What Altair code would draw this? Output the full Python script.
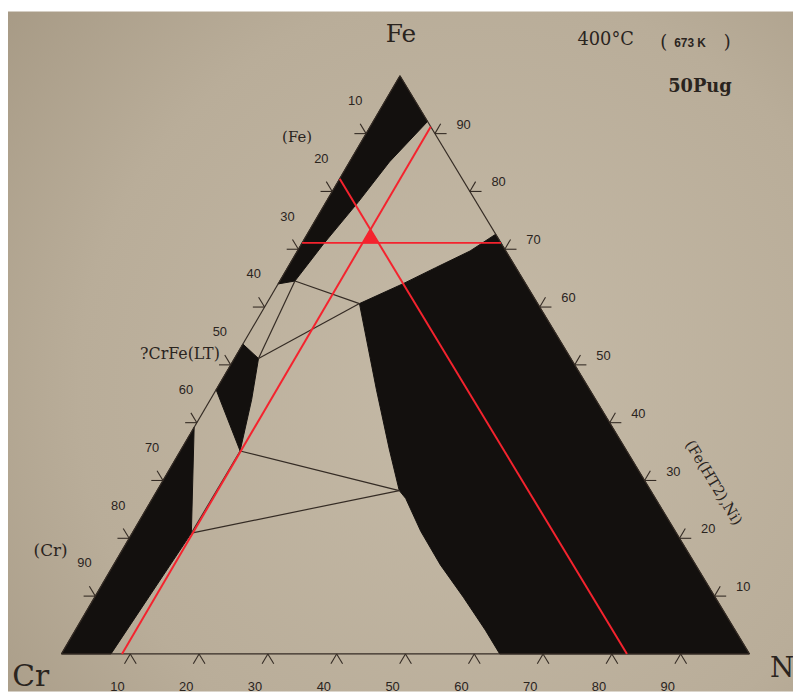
import altair as alt
import pandas as pd

# ---------------- data (at.% Ni, at.% Fe; Cr = 100 - Ni - Fe) ----------------
fe_ss_ni = [0, 7.9, 5.8, 4.7, 3.2, 2.2, 0]
fe_ss_fe = [100, 92.1, 85.1, 78.25, 70.9, 64.5, 64.0]

crfe_ni = [0, 3.5, 6.0, 8.7, 0]
crfe_fe = [53.6, 51.1, 44.0, 35.1, 45.7]

cr_ss_ni = [0, 0, 8.6, 7.2]
cr_ss_fe = [0, 39.2, 20.9, 0]

fcc_ni = [13.5, 18.1, 21.5, 25.1, 27.4, 100, 63.7, 59.6, 53.6, 47.5, 41.8, 36.8, 35.2, 30.2, 23.3]
fcc_fe = [60.6, 64.0, 66.8, 69.7, 72.6, 0, 0, 4.1, 9.8, 15.4, 21.2, 26.9, 28.25, 35.45, 45.7]

# tie lines: (Ni1, Fe1, Ni2, Fe2)
tie_ni1 = [2.2, 2.2, 3.5, 8.7, 8.6, 8.7]
tie_fe1 = [64.5, 64.5, 51.1, 35.1, 20.9, 35.1]
tie_ni2 = [13.5, 3.5, 13.5, 35.2, 35.2, 8.6]
tie_fe2 = [60.6, 51.1, 60.6, 28.25, 28.25, 20.9]

# red construction lines
red_ni1 = [8.8, 0, 0]
red_fe1 = [0, 71.1, 82.2]
red_ni2 = [8.8, 28.9, 82.2]
red_fe2 = [91.2, 71.1, 0]
red_tri_ni = [8.8, 11.1, 8.8]
red_tri_fe = [71.1, 71.1, 73.4]

tick_values = [10, 20, 30, 40, 50, 60, 70, 80, 90]

ann_text = ["Fe", "400°C", "(", "673 K", ")", "50Pug", "(Fe)", "?CrFe(LT)",
            "(Cr)", "Cr", "N", "(Fe(HT2),Ni)"]
ann_x = [49.35, 79.1, 87.55, 91.37, 96.76, 92.81, 34.24, 23.02, -1.58, -4.46, 104.75, 94.82]
ann_y = [107.2, 106.2, 105.7, 105.65, 105.7, 98.12, 89.38, 51.88, 17.81, -3.94, -2.57, 29.62]

# ---------------- helpers ----------------
K = 0.492  # apex offset (photo is slightly skewed)


def cart(ni, fe):
    return ni + K * fe, fe


def poly_df(name, nis, fes):
    rows = []
    for i, (n, f) in enumerate(zip(nis, fes)):
        x, y = cart(n, f)
        rows.append(dict(region=name, order=i, x=x, y=y))
    return rows


def seg_rows(n1, f1, n2, f2):
    rows = []
    for a, b, c, d in zip(n1, f1, n2, f2):
        x1, y1 = cart(a, b)
        x2, y2 = cart(c, d)
        rows.append(dict(x=x1, y=y1, x2=x2, y2=y2))
    return rows


polys = pd.DataFrame(
    poly_df("fe", fe_ss_ni, fe_ss_fe)
    + poly_df("crfe", crfe_ni, crfe_fe)
    + poly_df("cr", cr_ss_ni, cr_ss_fe)
    + poly_df("fcc", fcc_ni, fcc_fe)
)
red_tri = pd.DataFrame(poly_df("tri", red_tri_ni, red_tri_fe))

ties = pd.DataFrame(seg_rows(tie_ni1, tie_fe1, tie_ni2, tie_fe2))
outline = pd.DataFrame(seg_rows([0, 100, 0], [0, 0, 100], [100, 0, 0], [0, 100, 0]))
reds = pd.DataFrame(seg_rows(red_ni1, red_fe1, red_ni2, red_fe2))

d = 1.7
tn1, tf1, tn2, tf2 = [], [], [], []
for v in tick_values:
    # bottom edge (Ni axis)
    tn1 += [v, v]; tf1 += [0, 0]; tn2 += [v + d, v]; tf2 += [-d, -d]
    # left edge (Cr axis)
    f = 100 - v
    tn1 += [0, 0]; tf1 += [f, f]; tn2 += [-d, -d]; tf2 += [f, f + d]
    # right edge (Fe axis)
    tn1 += [100 - v, 100 - v]; tf1 += [v, v]; tn2 += [100 - v + d, 100 - v]; tf2 += [v, v + d]
ticks = pd.DataFrame(seg_rows(tn1, tf1, tn2, tf2))

bot_lab = pd.DataFrame([dict(x=cart(v, 0)[0], y=0, t=str(v)) for v in tick_values])
left_lab = pd.DataFrame([dict(x=cart(0, 100 - v)[0], y=100 - v, t=str(v)) for v in tick_values])
right_lab = pd.DataFrame([dict(x=cart(100 - v, v)[0], y=v, t=str(v)) for v in tick_values])

# ---------------- chart ----------------
W, H = 793, 687
xs = alt.Scale(domain=[-7.770, 106.331], nice=False, zero=False)
ys = alt.Scale(domain=[-6.507, 111.130], nice=False, zero=False)
X = alt.X("x:Q", scale=xs, axis=None)
Y = alt.Y("y:Q", scale=ys, axis=None)

INK = "#13100e"
LINE = "#342b24"
TEXT = "#2a241e"
RED = "#f4232e"

bg = alt.Chart(pd.DataFrame({"a": [0]})).mark_rect(
    fill=alt.RadialGradient(
        gradient="radial",
        stops=[alt.GradientStop(offset=0, color="#c5baa7"),
               alt.GradientStop(offset=0.6, color="#b9ad99"),
               alt.GradientStop(offset=1, color="#a29580")],
        x1=0.6, y1=0.55, x2=0.6, y2=0.55, r1=0, r2=0.85),
).encode(x=alt.value(0), x2=alt.value(W), y=alt.value(0), y2=alt.value(H))

regions = alt.Chart(polys).mark_line(
    fill=INK, stroke=INK, strokeWidth=1, interpolate="linear-closed"
).encode(x=X, y=Y, order="order:Q", detail="region:N")

outline_l = alt.Chart(outline).mark_rule(color=LINE, strokeWidth=1.2).encode(
    x=X, y=Y, x2="x2:Q", y2="y2:Q")
ties_l = alt.Chart(ties).mark_rule(color=LINE, strokeWidth=1.2).encode(
    x=X, y=Y, x2="x2:Q", y2="y2:Q")
ticks_l = alt.Chart(ticks).mark_rule(color=LINE, strokeWidth=1.1).encode(
    x=X, y=Y, x2="x2:Q", y2="y2:Q")
reds_l = alt.Chart(reds).mark_rule(color=RED, strokeWidth=2).encode(
    x=X, y=Y, x2="x2:Q", y2="y2:Q")
red_tri_l = alt.Chart(red_tri).mark_line(
    fill=RED, stroke=RED, strokeWidth=1, interpolate="linear-closed"
).encode(x=X, y=Y, order="order:Q")

num_font = "Liberation Sans"
bot_t = alt.Chart(bot_lab).mark_text(font=num_font, fontSize=13, color=TEXT, dx=-13, dy=33).encode(
    x=X, y=Y, text="t:N")
left_t = alt.Chart(left_lab).mark_text(font=num_font, fontSize=13, color=TEXT, dx=-11, dy=-33).encode(
    x=X, y=Y, text="t:N")
right_t = alt.Chart(right_lab).mark_text(font=num_font, fontSize=13, color=TEXT, dx=29, dy=-9).encode(
    x=X, y=Y, text="t:N")

ann_style = {
    "Fe": dict(fontSize=25),
    "400°C": dict(fontSize=18),
    "(": dict(fontSize=18),
    "673 K": dict(fontSize=12, font="Liberation Sans", fontWeight="bold"),
    ")": dict(fontSize=18),
    "50Pug": dict(fontSize=18, fontWeight=600),
    "(Fe)": dict(fontSize=15),
    "?CrFe(LT)": dict(fontSize=16, align="right"),
    "(Cr)": dict(fontSize=17),
    "Cr": dict(fontSize=30),
    "N": dict(fontSize=28),
    "(Fe(HT2),Ni)": dict(fontSize=15, angle=59),
}
ann_layers = []
for t, xv, yv in zip(ann_text, ann_x, ann_y):
    st = dict(font="DejaVu Serif", color=TEXT, baseline="middle", align="center")
    st.update(ann_style[t])
    ann_layers.append(
        alt.Chart(pd.DataFrame([dict(x=xv, y=yv, t=t)])).mark_text(**st).encode(x=X, y=Y, text="t:N")
    )

chart = alt.layer(
    bg, regions, outline_l, ties_l, ticks_l, reds_l, red_tri_l, bot_t, left_t, right_t, *ann_layers
).properties(
    width=W, height=H, padding=0,
    autosize=alt.AutoSizeParams(type="none"),
    background="#ffffff",
).configure_view(stroke=None)

chart.save("out.html", embed_options={"renderer": "svg", "actions": False})
